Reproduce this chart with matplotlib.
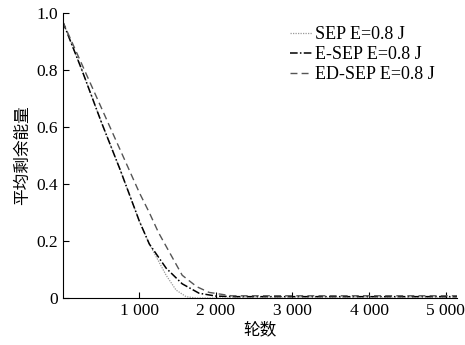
import matplotlib
matplotlib.use("Agg")
import matplotlib.pyplot as plt
from matplotlib.ticker import FuncFormatter

# rounds vs. average remaining energy
sep_x = [0, 250, 500, 750, 1000, 1130, 1350, 1480, 1610, 1750, 5150]
sep_y = [0.97, 0.80, 0.62, 0.45, 0.27, 0.19, 0.08, 0.028, 0.005, 0.0, 0.0]

esep_x = [0, 250, 500, 750, 1000, 1130, 1350, 1560, 1780, 2000, 2250, 5150]
esep_y = [0.97, 0.80, 0.62, 0.45, 0.27, 0.19, 0.105, 0.05, 0.017, 0.007, 0.005, 0.005]

edsep_x = [0, 250, 500, 750, 1000, 1130, 1250, 1560, 1750, 1910, 2200, 5150]
edsep_y = [0.97, 0.82, 0.67, 0.52, 0.37, 0.30, 0.23, 0.08, 0.04, 0.02, 0.008, 0.008]

labels = ["SEP E=0.8 J", "E-SEP E=0.8 J", "ED-SEP E=0.8 J"]
xticks = [1000, 2000, 3000, 4000, 5000]
yticks = [0, 0.2, 0.4, 0.6, 0.8, 1.0]

serif = ["Liberation Serif", "DejaVu Serif"]
cjk = ["Noto Sans CJK SC", "DejaVu Sans"]

fig = plt.figure(figsize=(4.65, 3.45), dpi=100)
ax = fig.add_axes([0.135, 0.136, 0.848, 0.826])

ax.plot(sep_x, sep_y, color="#999999", ls=(0, (1, 1)), lw=0.9, label=labels[0])
ax.plot(esep_x, esep_y, color="black", ls=(0, (5, 1.5, 1, 1.5)), lw=1.1, label=labels[1])
ax.plot(edsep_x, edsep_y, color="#555555", ls=(0, (5, 3)), lw=1.0, label=labels[2])

ax.set_xlim(0, 5150)
ax.set_ylim(0, 1.0)
ax.set_xticks(xticks)
ax.set_yticks(yticks)
ax.xaxis.set_major_formatter(FuncFormatter(lambda v, p: f"{int(v):,}".replace(",", " ")))
ax.yaxis.set_major_formatter(FuncFormatter(lambda v, p: "0" if v == 0 else f"{v:.1f}"))
for t in ax.get_xticklabels() + ax.get_yticklabels():
    t.set_family(serif)
    t.set_fontsize(12.5)
ax.tick_params(direction="in", length=4, width=0.8)

ax.spines["top"].set_visible(False)
ax.spines["right"].set_visible(False)

ax.set_xlabel("轮数", family=cjk, fontsize=12, labelpad=2)
ax.set_ylabel("平均剩余能量", family=cjk, fontsize=12, labelpad=4)

ax.legend(loc="upper left", frameon=False, prop={"family": serif, "size": 13},
          handlelength=1.2, handletextpad=0.2, labelspacing=0.15, borderpad=0,
          bbox_to_anchor=(0.553, 0.985))

fig.savefig("out.png", dpi=100)
